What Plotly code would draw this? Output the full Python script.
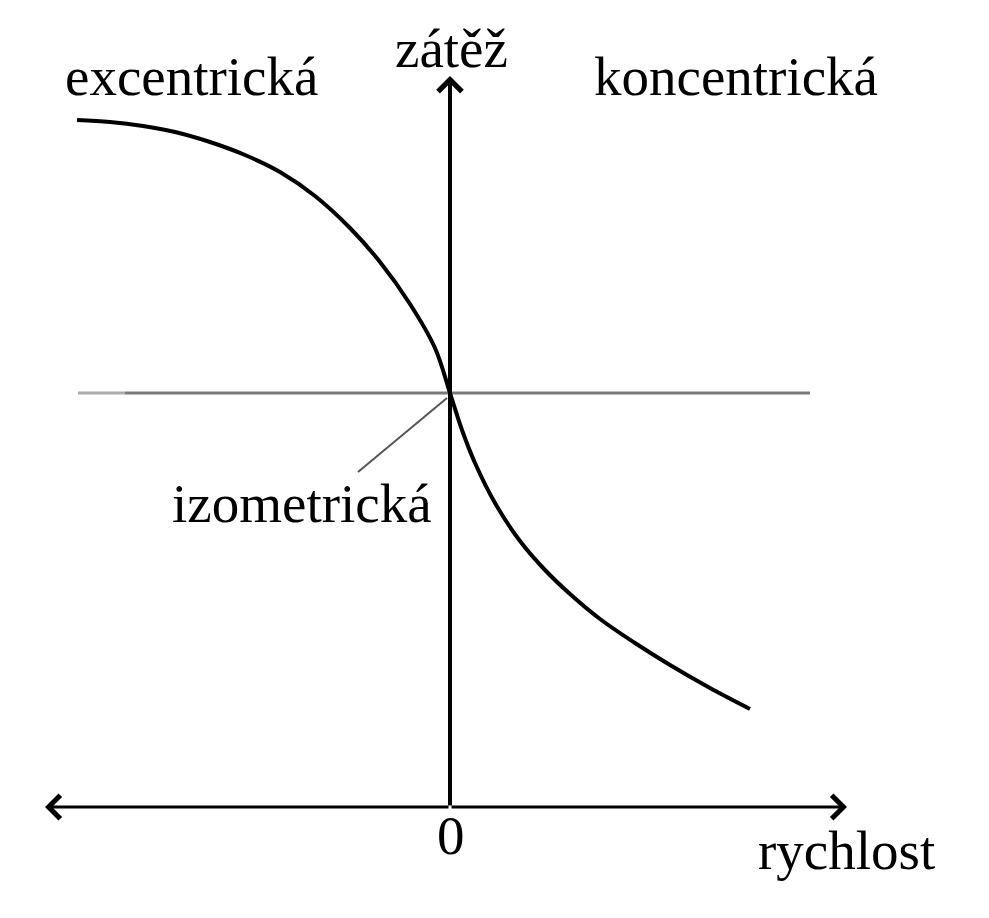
import plotly.graph_objects as go

# load-velocity curve (x = velocity, y = load), schematic units
velocity = [-373, -340, -307, -275, -240, -205, -170, -135, -100, -70, -40, -15, 0,
            12, 25, 45, 70, 95, 120, 150, 185, 220, 260, 300]
load = [273, 271, 267, 261, 251, 238, 221, 197, 165, 131, 89, 45, 0,
        -37, -70, -110, -148, -177, -201, -226, -250, -272, -295, -316]

# horizontal zero-load line
zero_line_x = [-372, 360]
zero_line_y = [0, 0]

# pointer line for the isometric label
pointer_x = [-3, -92]
pointer_y = [-5, -79]

# axes (tips of arrows)
load_axis_x = 0
load_axis_bottom = -414
load_axis_top = 317
vel_axis_y = -414
vel_axis_left = -405
vel_axis_right = 397

# labels
label_text = ["excentrická", "zátěž", "koncentrická", "izometrická", "0", "rychlost"]
label_x = [-259, 1, 286, -148, 1, 396]
label_y = [317, 345, 317, -110, -442, -457]

fig = go.Figure()

# light left end of zero line
fig.add_trace(go.Scatter(x=[zero_line_x[0], zero_line_x[0] + 47], y=zero_line_y,
                         mode='lines', line=dict(color='#ababab', width=3),
                         hoverinfo='skip', showlegend=False))
fig.add_trace(go.Scatter(x=[zero_line_x[0] + 47, zero_line_x[1]], y=zero_line_y,
                         mode='lines', line=dict(color='#7a7a7a', width=3),
                         hoverinfo='skip', showlegend=False))

fig.add_trace(go.Scatter(x=pointer_x, y=pointer_y,
                         mode='lines', line=dict(color='#555555', width=2),
                         hoverinfo='skip', showlegend=False))

fig.add_trace(go.Scatter(x=velocity, y=load,
                         mode='lines', line=dict(color='black', width=4, shape='spline', smoothing=1.0),
                         hoverinfo='skip', showlegend=False))

# arrows for axes
arrow_style = dict(showarrow=True, arrowhead=4, arrowcolor='black',
                   axref='x', ayref='y', xref='x', yref='y', text='')
fig.add_annotation(x=load_axis_x, y=load_axis_top, ax=load_axis_x, ay=load_axis_bottom,
                   arrowwidth=4, arrowsize=1.15, **arrow_style)
fig.add_annotation(x=vel_axis_right, y=vel_axis_y, ax=0, ay=vel_axis_y,
                   arrowwidth=3, arrowsize=1.5, **arrow_style)
fig.add_annotation(x=vel_axis_left, y=vel_axis_y, ax=0, ay=vel_axis_y,
                   arrowwidth=3, arrowsize=1.5, **arrow_style)

for t, lx, ly in zip(label_text, label_x, label_y):
    fig.add_annotation(x=lx, y=ly, text=t, showarrow=False,
                       xanchor='center', yanchor='middle',
                       font=dict(family='Liberation Serif', size=55, color='black'))

# page body has an 8px margin, so the figure is a bit smaller than the window
fig.update_layout(
    width=981, height=910,
    margin=dict(l=0, r=0, t=0, b=0),
    paper_bgcolor='white', plot_bgcolor='white',
    xaxis=dict(range=[-442, 539], visible=False, fixedrange=True),
    yaxis=dict(range=[-525, 385], visible=False, fixedrange=True),
    showlegend=False,
)

fig.write_html("out.html")
